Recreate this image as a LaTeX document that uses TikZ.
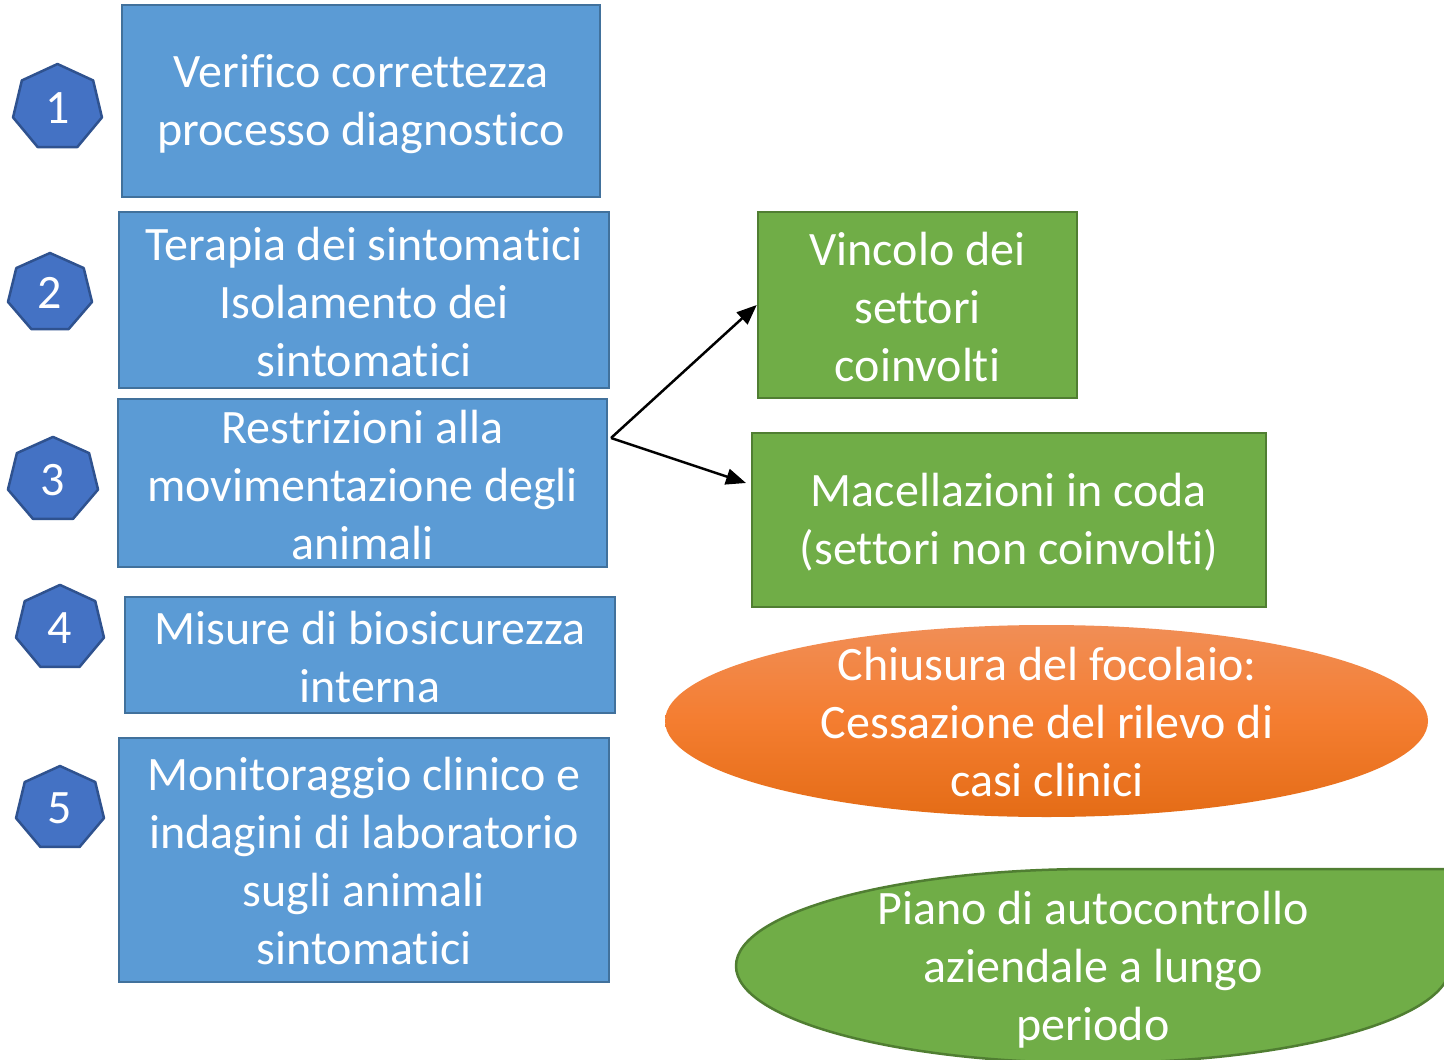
\documentclass[tikz,border=0pt]{standalone}
\usepackage{fontspec}
\setmainfont{Carlito}[Ligatures={NoCommon}]
\usetikzlibrary{arrows.meta,shapes.geometric}
\definecolor{bfill}{HTML}{5B9BD5}
\definecolor{bline}{HTML}{41719C}
\definecolor{gfill}{HTML}{70AD47}
\definecolor{gline}{HTML}{507E32}
\definecolor{hfill}{HTML}{4472C4}
\definecolor{hline}{HTML}{2F528F}
\definecolor{otop}{RGB}{241,142,86}
\definecolor{omid}{RGB}{244,125,48}
\definecolor{obot}{RGB}{228,108,22}
\newcommand{\hept}[6]{%
  \draw[badgeshape] (#2,#3) +({-90}:{#4} and {#5})
    -- +({-90+360/7}:{#4} and {#5})
    -- +({-90+2*360/7}:{#4} and {#5})
    -- +({-90+3*360/7}:{#4} and {#5})
    -- +({-90+4*360/7}:{#4} and {#5})
    -- +({-90+5*360/7}:{#4} and {#5})
    -- +({-90+6*360/7}:{#4} and {#5})
    -- cycle;
  \node[txt] (#1) at (#2,{#3}) {#6};}
\tikzset{
  txt/.style={text=white, align=center, font=\fontsize{48}{58}\selectfont, inner sep=0pt},
  bluebox/.style={draw=bline, fill=bfill, line width=2.5pt, rectangle, inner sep=0pt},
  greenbox/.style={draw=gline, fill=gfill, line width=2.5pt, rectangle, inner sep=0pt},
  badgeshape/.style={draw=hline, fill=hfill, line width=2.5pt, line join=round},
  conn/.style={line width=2.5pt, -{Triangle[length=20pt,width=16pt]}}
}
\begin{document}
\begin{tikzpicture}[x=1pt,y=-1pt]
\useasboundingbox (0,0) rectangle (1444,1060);
\clip (0,0) rectangle (1444,1060);
\fill[white] (0,0) rectangle (1444,1060);
% blue boxes
\node[bluebox, minimum width=478pt, minimum height=192pt] (b1) at (361,101) {};
\node[txt] (b1t) at (361,104) {Verifico correttezza\\processo diagnostico};
\node[bluebox, minimum width=490pt, minimum height=176pt] (b2) at (364,300) {};
\node[txt] (b2t) at (364,302) {Terapia dei sintomatici\\Isolamento dei\\sintomatici};
\node[bluebox, minimum width=489pt, minimum height=168pt] (b3) at (362.5,483) {};
\node[txt] (b3t) at (362.5,485) {Restrizioni alla\\movimentazione degli\\animali};
\node[bluebox, minimum width=490pt, minimum height=116pt] (b4) at (370,655) {};
\node[txt] (b4t) at (370,657) {Misure di biosicurezza\\interna};
\node[bluebox, minimum width=490pt, minimum height=244pt] (b5) at (364,860) {};
\node[txt] (b5t) at (364,861.5) {Monitoraggio clinico e\\indagini di laboratorio\\sugli animali\\sintomatici};
% badges
\hept{n1}{57.5}{107.7}{45.6}{43.7}{1}
\hept{n2}{50}{293}{43.1}{40}{2}
\hept{n3}{53}{480}{46.2}{43.1}{3}
\hept{n4}{60}{628}{45.1}{43.1}{4}
\hept{n5}{60}{808.6}{45.1}{42.6}{5}
% green boxes
\node[greenbox, minimum width=319pt, minimum height=186pt] (gA) at (917.5,305) {};
\node[txt] (gAt) at (917.5,307.5) {Vincolo dei\\settori\\coinvolti};
\node[greenbox, minimum width=514pt, minimum height=174pt] (gB) at (1009,520) {};
\node[txt] (gBt) at (1009,522) {Macellazioni in coda\\(settori non coinvolti)};
% orange ellipse
\node[ellipse, inner sep=0pt, minimum width=763pt, minimum height=192pt, top color=otop, bottom color=obot, middle color=omid] (oe) at (1046.5,721) {};
\node[txt] (oet) at (1047,722.5) {Chiusura del focolaio:\\Cessazione del rilevo di\\casi clinici};
% green teardrop
\draw[draw=gline, fill=gfill, line width=2.5pt] (1450,966) arc[start angle=0, end angle=270, x radius=357, y radius=97] -- (1450,869) -- cycle;
\node[txt] (ge) at (1093,970) {Piano di autocontrollo\\aziendale a lungo\\periodo};
% connectors
\coordinate (o) at (611,438);
\coordinate (t2) at (746,483);
\draw[conn] (o) -- (gA.west);
\draw[conn] (o) -- (t2);
\end{tikzpicture}
\end{document}
